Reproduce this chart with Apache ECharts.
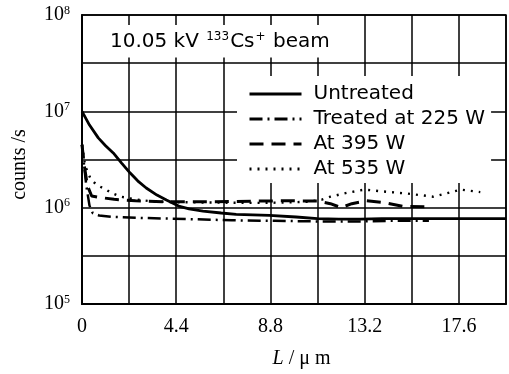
<!DOCTYPE html>
<html>
<head>
<meta charset="utf-8">
<script src="https://cdn.jsdelivr.net/npm/echarts@6/dist/echarts.min.js"></script>
<style>
  html, body { margin: 0; padding: 0; background: #fff; }
  #chart { width: 509px; height: 374px; }
</style>
</head>
<body>
<div id="chart"></div>
<script>
// depth profile, counts/s vs depth L (um)
const xLabels = [0, 4.4, 8.8, 13.2, 17.6];
const yLabelExps = [5, 6, 7, 8];

const untreatedX = [0, 0.35, 0.76, 1.1, 1.46, 1.85, 2.24, 2.6, 3.0, 3.5, 3.94, 4.56, 5.0, 5.65, 6.5, 7.2, 8.75, 10, 11, 12, 13, 14, 16, 18, 19.8];
const untreatedY = [1.0e7, 7.2e6, 5.3e6, 4.4e6, 3.7e6, 2.9e6, 2.3e6, 1.9e6, 1.6e6, 1.35e6, 1.2e6, 1.03e6, 9.7e5, 9.2e5, 8.8e5, 8.5e5, 8.3e5, 8.0e5, 7.7e5, 7.6e5, 7.6e5, 7.7e5, 7.7e5, 7.7e5, 7.7e5];

const w225X = [0, 0.08, 0.2, 0.35, 0.5, 0.8, 1.5, 3, 5, 7, 9, 11, 13, 14.5, 16.2];
const w225Y = [4.5e6, 3.0e6, 1.7e6, 1.05e6, 8.8e5, 8.3e5, 8.0e5, 7.8e5, 7.6e5, 7.4e5, 7.3e5, 7.2e5, 7.2e5, 7.3e5, 7.3e5];

const w395X = [0, 0.1, 0.25, 0.45, 0.8, 1.5, 2.5, 4, 6, 8, 9.5, 11, 11.6, 12.1, 12.6, 13.3, 14.1, 15, 16];
const w395Y = [4.5e6, 2.8e6, 1.7e6, 1.32e6, 1.28e6, 1.22e6, 1.18e6, 1.15e6, 1.15e6, 1.17e6, 1.18e6, 1.17e6, 1.1e6, 1.0e6, 1.1e6, 1.18e6, 1.13e6, 1.03e6, 1.02e6];

const w535X = [0, 0.15, 0.4, 0.6, 0.85, 1.1, 1.35, 1.8, 2.5, 3.3, 4.4, 6, 8, 9.5, 10.5, 11.2, 11.6, 12.4, 13.2, 14.1, 15.2, 16.4, 17.7, 18.6];
const w535Y = [4.5e6, 2.7e6, 2.0e6, 1.8e6, 1.65e6, 1.55e6, 1.43e6, 1.3e6, 1.22e6, 1.16e6, 1.14e6, 1.13e6, 1.12e6, 1.13e6, 1.15e6, 1.21e6, 1.3e6, 1.43e6, 1.54e6, 1.47e6, 1.4e6, 1.3e6, 1.54e6, 1.45e6];

const zip = (xs, ys) => xs.map((x, i) => [x, ys[i]]);

const SERIF = 'Liberation Serif';
const SANS = 'DejaVu Sans';

const chart = echarts.init(document.getElementById('chart'), null, { renderer: 'canvas' });

const lineSeries = (name, xs, ys, lineStyle) => ({
  name,
  type: 'line',
  symbol: 'none',
  color: '#000',
  itemStyle: { color: '#000' },
  data: zip(xs, ys),
  lineStyle: Object.assign({ color: '#000' }, lineStyle),
});

chart.setOption({
  animation: false,
  backgroundColor: '#fff',
  title: {
    text: '10.05 kV {sup|133}Cs{sup|+} beam',
    left: 103,
    top: 25,
    padding: [6, 8, 6, 7],
    backgroundColor: '#fff',
    textStyle: {
      fontFamily: SANS,
      fontSize: 20,
      fontWeight: 'normal',
      color: '#000',
      rich: {
        sup: { fontFamily: SANS, fontSize: 12, color: '#000', padding: [0, 1, 9, 1] },
      },
    },
  },
  legend: {
    orient: 'vertical',
    left: 237,
    top: 76,
    padding: [8, 6, 4, 11],
    backgroundColor: '#fff',
    itemWidth: 52,
    itemHeight: 14,
    itemGap: 5,
    itemStyle: { opacity: 0 },
    lineStyle: { width: 3 },
    textStyle: { fontFamily: SANS, fontSize: 20, color: '#000', padding: [0, 0, 0, 7] },
  },
  grid: {
    left: 82,
    right: 2,
    top: 15,
    bottom: 70,
    show: true,
    borderColor: '#000',
    borderWidth: 1.5,
  },
  xAxis: {
    type: 'value',
    min: 0,
    max: 19.8,
    interval: 2.2,
    name: '{it|L} / μ m',
    nameLocation: 'middle',
    nameGap: 45,
    nameTextStyle: {
      fontFamily: SERIF,
      fontSize: 20,
      color: '#000',
      padding: [0, 0, 0, 15],
      rich: { it: { fontFamily: SERIF, fontSize: 20, fontStyle: 'italic', color: '#000' } },
    },
    axisLine: { lineStyle: { color: '#000', width: 2 } },
    axisTick: { show: false },
    splitLine: { show: true, lineStyle: { color: '#000', width: 1.5 } },
    axisLabel: {
      margin: 13,
      fontFamily: SERIF,
      fontSize: 20,
      color: '#000',
      formatter: (v) => {
        const hit = xLabels.find((t) => Math.abs(t - v) < 1e-6);
        return hit === undefined ? '' : String(hit);
      },
    },
  },
  yAxis: {
    type: 'log',
    logBase: Math.sqrt(10),
    min: 1e5,
    max: 1e8,
    splitNumber: 6,
    name: 'counts /s',
    nameLocation: 'middle',
    nameGap: 52,
    nameTextStyle: { fontFamily: SERIF, fontSize: 20, color: '#000', padding: [0, 10, 0, 0] },
    axisLine: { show: true, lineStyle: { color: '#000', width: 2 } },
    axisTick: { show: false },
    splitLine: { show: true, lineStyle: { color: '#000', width: 1.5 } },
    axisLabel: {
      margin: 12,
      fontFamily: SERIF,
      fontSize: 20,
      color: '#000',
      rich: {
        sup: { fontFamily: SERIF, fontSize: 12, color: '#000', padding: [0, 0, 9, 0] },
      },
      formatter: (v) => {
        const e = Math.round(Math.log10(v) * 2) / 2;
        return yLabelExps.includes(e) ? '10{sup|' + e + '}' : '';
      },
    },
  },
  series: [
    lineSeries('Untreated', untreatedX, untreatedY, { width: 2.8 }),
    lineSeries('Treated at 225 W', w225X, w225Y, { width: 2.5, type: [13, 5, 2, 5] }),
    lineSeries('At 395 W', w395X, w395Y, { width: 3, type: [14, 8] }),
    lineSeries('At 535 W', w535X, w535Y, { width: 2.4, type: [2, 6] }),
  ],
});
</script>
</body>
</html>
